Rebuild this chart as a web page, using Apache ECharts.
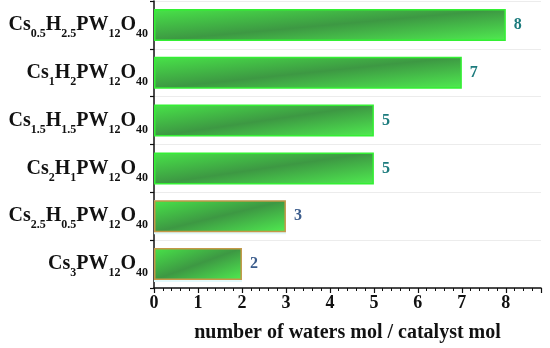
<!DOCTYPE html>
<html><head><meta charset="utf-8">
<script src="https://cdn.jsdelivr.net/npm/echarts@6/dist/echarts.min.js"></script>
<style>html,body{margin:0;padding:0;background:#fff}#c{width:550px;height:348px}</style>
</head><body><div id="c"></div>
<script>
var categories = ["Cs_{0.5}H_{2.5}PW_{12}O_{40}", "Cs_{1}H_{2}PW_{12}O_{40}", "Cs_{1.5}H_{1.5}PW_{12}O_{40}", "Cs_{2}H_{1}PW_{12}O_{40}", "Cs_{2.5}H_{0.5}PW_{12}O_{40}", "Cs_{3}PW_{12}O_{40}"];
var waters = [8, 7, 5, 5, 3, 2];
var xTicks = [0, 1, 2, 3, 4, 5, 6, 7, 8];
var xName = "number of waters mol / catalyst mol";

var FONT = "'Liberation Serif','Times New Roman',serif";
var BAR_H = 32;
function toRich(s) {
  return s.replace(/_\{([^}]*)\}/g, function (m, g) { return "{s|" + g + "}"; })
          .split(/(\{s\|[^}]*\})/).map(function (p) {
            if (!p) return "";
            return p.indexOf("{s|") === 0 ? p : "{b|" + p + "}";
          }).join("");
}
function grad(W) {
  var H = BAR_H, d = H * H + W * W;
  return new echarts.graphic.LinearGradient(0, 0, 2 * H * H / d, 2 * W * W / d, [
    {offset: 0, color: '#48e448'}, {offset: 0.5, color: '#3d9843'}, {offset: 1, color: '#50ec50'}
  ]);
}
var chart = echarts.init(document.getElementById('c'));
function build(pxPerUnit) {
  var barData = waters.map(function (v, i) {
    var lower = i >= 4;
    return {
      value: v,
      itemStyle: {color: grad(Math.max(1, v * pxPerUnit)), borderColor: lower ? '#c49848' : '#33f033', borderWidth: 1.5},
      label: {color: lower ? '#3b5c8c' : '#1c7b7d'}
    };
  });
  var shade = waters.map(function (v, i) {
    return i >= 4 ? {value: v, itemStyle: {color: '#e3f9fb', borderColor: '#e3f9fb', borderWidth: 6}} : {value: 0, itemStyle: {color: 'rgba(0,0,0,0)'}};
  });
  return {
    animation: false,
    grid: {left: 154, right: 9, top: 1, bottom: 58},
    xAxis: {
      type: 'value', min: 0, max: 8.8, interval: 1,
      name: xName, nameLocation: 'middle', nameGap: 35,
      nameTextStyle: {fontFamily: FONT, fontWeight: 'bold', fontSize: 20, color: '#111'},
      axisLine: {show: true, lineStyle: {color: '#111', width: 1.5}},
      axisTick: {show: true, length: 5, lineStyle: {color: '#111', width: 1.2}},
      minorTick: {show: true, splitNumber: 5, length: 3, lineStyle: {color: '#111'}},
      splitLine: {show: false},
      axisLabel: {fontFamily: FONT, fontWeight: 'bold', fontSize: 18, color: '#111', margin: 6,
        formatter: function (v) { return xTicks.indexOf(v) >= 0 ? String(v) : ''; }}
    },
    yAxis: {
      type: 'category', data: categories, inverse: true,
      axisLine: {show: true, lineStyle: {color: '#111', width: 1.5}},
      axisTick: {show: true, length: 4, lineStyle: {color: '#111', width: 1.2}},
      splitLine: {show: true, lineStyle: {color: '#ececec', width: 1}},
      axisLabel: {
        margin: 6,
        formatter: function (v) { return toRich(v); },
        rich: {
          b: {fontFamily: FONT, fontWeight: 'bold', fontSize: 20, color: '#111', lineHeight: 30},
          s: {fontFamily: FONT, fontWeight: 'bold', fontSize: 12, color: '#111', lineHeight: 14, verticalAlign: 'bottom'}
        }
      }
    },
    series: [{
      type: 'bar', data: shade, barWidth: 34, z: 1, silent: true,
      label: {show: false}
    }, {
      type: 'bar', data: barData, barWidth: BAR_H, barGap: '-100%', z: 2,
      label: {show: true, position: 'right', distance: 8, fontFamily: FONT, fontWeight: 'bold', fontSize: 16}
    }]
  };
}
chart.setOption(build(44));
var p0 = chart.convertToPixel({xAxisIndex: 0}, 0);
var p1 = chart.convertToPixel({xAxisIndex: 0}, 1);
chart.setOption(build(p1 - p0));
</script></body></html>
